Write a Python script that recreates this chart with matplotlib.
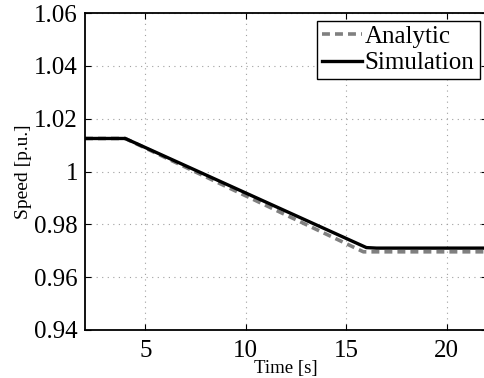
import numpy as np
import matplotlib
matplotlib.use("Agg")
import matplotlib.pyplot as plt

plt.rcParams['font.family'] = ['Liberation Serif', 'DejaVu Serif']
plt.rcParams['mathtext.fontset'] = 'stix'

# values
t_analytic = [2.0, 4.0, 15.85, 22.0]
w_analytic = [1.0125, 1.0125, 0.9696, 0.9696]

t_sim = [2.0, 4.0, 4.5, 16.0, 16.5, 22.0]
w_sim = [1.0125, 1.0125, 1.0108, 0.9712, 0.9710, 0.9710]

xticks = [5, 10, 15, 20]
yticks = [0.94, 0.96, 0.98, 1.0, 1.02, 1.04, 1.06]
ytick_labels = ['0.94', '0.96', '0.98', '1', '1.02', '1.04', '1.06']

fig = plt.figure(figsize=(4.84, 3.78), dpi=100)
ax = fig.add_axes([85 / 484, 48 / 378, 402 / 484, 317 / 378])

ax.plot(t_analytic, w_analytic, color='#808080', linestyle=(0, (2.2, 1.4)),
        linewidth=2.6, label='Analytic')
ax.plot(t_sim, w_sim, color='black', linewidth=2.4, label='Simulation')

ax.set_xlim(2, 22)
ax.set_ylim(0.94, 1.06)
ax.set_xticks(xticks)
ax.set_yticks(yticks)
ax.set_yticklabels(ytick_labels)

ax.grid(True, color='#a0a0a0', linestyle=(0, (1, 4)), linewidth=0.8)
ax.tick_params(direction='in', top=True, right=True, labelsize=18,
               length=4, width=0.8)
ax.tick_params(axis='x', pad=7)
ax.tick_params(axis='y', pad=5)
for s in ax.spines.values():
    s.set_linewidth(1.3)

ax.set_xlabel('Time [s]', fontsize=13.5, labelpad=-1)
ax.set_ylabel('Speed [p.u.]', fontsize=14, labelpad=2)

leg = ax.legend(loc='upper right', fontsize=18, fancybox=False,
                framealpha=1, edgecolor='black', borderaxespad=0.3,
                handlelength=1.6, handletextpad=0.1, borderpad=0.2,
                labelspacing=0.15)
leg.get_frame().set_linewidth(1.0)

fig.savefig('out.png', dpi=100)
